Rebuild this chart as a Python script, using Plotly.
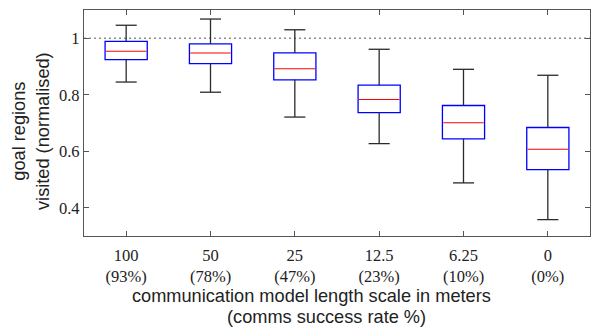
import plotly.graph_objects as go

scales = ["100", "50", "25", "12.5", "6.25", "0"]
rates = ["(93%)", "(78%)", "(47%)", "(23%)", "(10%)", "(0%)"]
upper = [1.046, 1.068, 1.030, 0.961, 0.890, 0.869]
q3 = [0.989, 0.980, 0.948, 0.834, 0.762, 0.684]
median = [0.954, 0.948, 0.892, 0.783, 0.701, 0.607]
q1 = [0.924, 0.910, 0.853, 0.737, 0.644, 0.535]
lower = [0.845, 0.809, 0.721, 0.627, 0.488, 0.358]

xs = list(range(len(scales)))
ticktext = [f"{s}<br>{r}" for s, r in zip(scales, rates)]
BW = 0.5      # box width (category units)
CW = 0.25     # whisker cap width

fig = go.Figure()
# boxes (blue outline, white fill)
fig.add_trace(go.Bar(x=xs, base=q1, y=[a - b for a, b in zip(q3, q1)], width=BW,
                     marker=dict(color="white", line=dict(color="#0000ff", width=1.3)),
                     showlegend=False))
# whiskers (black)
wx, wy = [], []
for x, lo, a, b, hi in zip(xs, lower, q1, q3, upper):
    wx += [x, x, None, x, x, None,
           x - CW / 2, x + CW / 2, None, x - CW / 2, x + CW / 2, None]
    wy += [b, hi, None, a, lo, None, hi, hi, None, lo, lo, None]
fig.add_trace(go.Scatter(x=wx, y=wy, mode="lines",
                         line=dict(color="#2a2a2a", width=1.3), showlegend=False))
# medians (red)
mx, my = [], []
for x, m in zip(xs, median):
    mx += [x - BW / 2 + 0.01, x + BW / 2 - 0.01, None]
    my += [m, m, None]
fig.add_trace(go.Scatter(x=mx, y=my, mode="lines",
                         line=dict(color="#ff0000", width=1.1), showlegend=False))

fig.add_hline(y=1, line=dict(color="#8c8c8c", width=1.3, dash="2px,3px"), layer="below")

serif = "Liberation Serif, DejaVu Serif, serif"
sans = "Liberation Sans, Arial, sans-serif"
axcol = "#555555"
txtcol = "#222222"
fig.update_layout(
    width=594, height=328,
    margin=dict(l=84, r=4, t=10, b=92),
    plot_bgcolor="white", paper_bgcolor="white",
    xaxis=dict(range=[-0.5, 5.5], tickvals=xs, ticktext=ticktext,
               ticks="inside", ticklen=5, tickcolor=axcol, mirror="ticks",
               showline=True, linecolor=axcol, linewidth=1.3, showgrid=False,
               zeroline=False, ticklabelstandoff=4,
               tickfont=dict(family=serif, size=16.5, color=txtcol)),
    yaxis=dict(range=[0.3, 1.1], tickvals=[0.4, 0.6, 0.8, 1.0],
               ticktext=["0.4", "0.6", "0.8", "1"],
               ticks="inside", ticklen=5, tickcolor=axcol, mirror="ticks",
               showline=True, linecolor=axcol, linewidth=1.3, showgrid=False,
               zeroline=False,
               tickfont=dict(family=serif, size=16.5, color=txtcol)),
)

W, H = 594, 328
def px(x):
    return (x - 84) / (W - 84 - 4)
def py(y):
    return 1 - (y - 10) / (H - 10 - 92)

tf = dict(family=sans, size=18.2, color=txtcol)
fig.add_annotation(text="communication model length scale in meters", xref="paper", yref="paper",
                   x=px(311), y=py(296), xanchor="center", yanchor="middle",
                   showarrow=False, font=tf)
fig.add_annotation(text="(comms success rate %)", xref="paper", yref="paper",
                   x=px(326), y=py(317), xanchor="center", yanchor="middle",
                   showarrow=False, font=tf)
fig.add_annotation(text="goal regions<br>visited (normalised)", xref="paper", yref="paper",
                   x=px(31), y=py(131), xanchor="center", yanchor="middle",
                   textangle=-90, showarrow=False, font=tf)

fig.write_html("out.html")
